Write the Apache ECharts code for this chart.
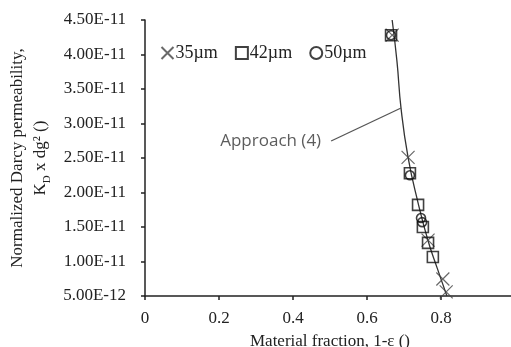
<!DOCTYPE html>
<html>
<head>
<meta charset="utf-8">
<script src="https://cdn.jsdelivr.net/npm/echarts@6/dist/echarts.min.js"></script>
<style>html,body{margin:0;padding:0;background:#fff}#c{width:511px;height:347px}</style>
</head>
<body>
<div id="c"></div>
<script>
// Data
var seriesNames = ['35\u00b5m', '42\u00b5m', '50\u00b5m'];
var d35 = [[0.668, 4.28e-11], [0.711, 2.51e-11], [0.765, 1.31e-11], [0.805, 7.46e-12], [0.814, 5.6e-12]];
var d42 = [[0.665, 4.28e-11], [0.716, 2.28e-11], [0.738, 1.82e-11], [0.751, 1.50e-11], [0.765, 1.27e-11], [0.778, 1.065e-11]];
var d50 = [[0.665, 4.28e-11], [0.716, 2.25e-11], [0.746, 1.63e-11], [0.749, 1.57e-11]];
var approachLine = [[0.668, 4.5e-11], [0.681, 3.9e-11], [0.692, 3.22e-11], [0.711, 2.51e-11], [0.738, 1.85e-11], [0.765, 1.30e-11], [0.790, 9.0e-12], [0.816, 5.0e-12]];
var leader = [[0.503, 2.746e-11], [0.692, 3.225e-11]];
var annotationText = 'Approach (4)';

var crossPath = 'path://M0,0L10,10M10,0L0,10';
var serif = '"Liberation Serif", "Times New Roman", serif';

var chart = echarts.init(document.getElementById('c'));
chart.setOption({
  animation: false,
  grid: {left: 145, right: -4, top: 20, bottom: 51, containLabel: false, outerBoundsMode: 'none'},
  legend: {
    left: 154, top: 39,
    data: [
      {name: seriesNames[0], icon: crossPath},
      {name: seriesNames[1], icon: 'rect'},
      {name: seriesNames[2], icon: 'circle'}
    ],
    itemWidth: 12, itemHeight: 12, itemGap: 17,
    textStyle: {fontFamily: serif, fontSize: 18, color: '#222', padding: [0, 0, 0, -3]}
  },
  xAxis: {
    type: 'value', min: 0, max: 1, interval: 0.2,
    name: 'Material fraction, 1-\u03b5 ()', nameLocation: 'middle', nameGap: 37,
    nameTextStyle: {fontFamily: serif, fontSize: 17, color: '#222'},
    axisLine: {lineStyle: {color: '#222', width: 1.5}},
    axisTick: {show: true, length: 4, lineStyle: {color: '#222', width: 1.5}},
    axisLabel: {fontFamily: serif, fontSize: 17, color: '#222', showMaxLabel: false, margin: 14},
    splitLine: {show: false}
  },
  yAxis: {
    type: 'value', min: 5e-12, max: 4.5e-11, interval: 5e-12,
    name: 'Normalized Darcy permeability,\nK{sub|D} x dg\u00b2 ()',
    nameLocation: 'middle', nameRotate: 90, nameGap: 92,
    nameTextStyle: {fontFamily: serif, fontSize: 17, color: '#222', lineHeight: 23,
      rich: {sub: {fontFamily: serif, fontSize: 11, color: '#222', verticalAlign: 'bottom', padding: [6, 0, 0, 0]}}},
    axisLine: {show: true, lineStyle: {color: '#222', width: 1.5}},
    axisTick: {show: true, length: 4, lineStyle: {color: '#222', width: 1.5}},
    axisLabel: {fontFamily: serif, fontSize: 17, color: '#222', margin: 19,
      formatter: function (v) { return v.toExponential(2).toUpperCase(); }},
    splitLine: {show: false}
  },
  series: [
    {
      name: 'approach', type: 'line', data: approachLine, smooth: true, showSymbol: false,
      symbol: 'none', lineStyle: {color: '#333', width: 1.3}, z: 1, silent: true
    },
    {
      name: 'leader', type: 'line', data: leader, showSymbol: false, symbol: 'none',
      lineStyle: {color: '#555', width: 1.3}, z: 1, silent: true
    },
    {
      name: 'label', type: 'scatter', data: [leader[0]], symbolSize: 0, silent: true,
      label: {show: true, position: 'left', distance: 10, formatter: annotationText,
        fontFamily: '"Open Sans", "Noto Sans", sans-serif', fontSize: 17, color: '#333'}
    },
    {
      name: seriesNames[0], type: 'scatter', data: d35, symbol: crossPath, symbolSize: 13,
      itemStyle: {color: 'none', borderColor: '#444', borderWidth: 1.2}, z: 3
    },
    {
      name: seriesNames[1], type: 'scatter', data: d42, symbol: 'rect', symbolSize: 11,
      itemStyle: {color: 'rgba(255,255,255,0)', borderColor: '#111', borderWidth: 1.6}, z: 4
    },
    {
      name: seriesNames[2], type: 'scatter', data: d50, symbol: 'circle', symbolSize: 9,
      itemStyle: {color: 'rgba(255,255,255,0)', borderColor: '#111', borderWidth: 1.6}, z: 5
    }
  ]
});
</script>
</body>
</html>
